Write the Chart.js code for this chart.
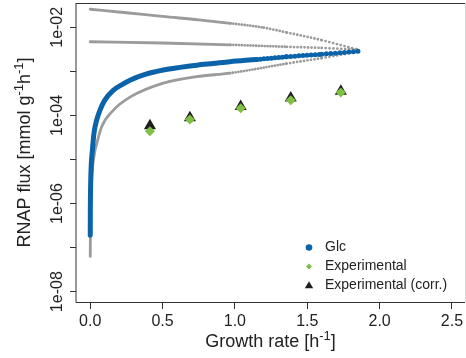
<!DOCTYPE html>
<html>
<head>
<meta charset="utf-8">
<script src="https://cdn.jsdelivr.net/npm/chart.js@4/dist/chart.umd.min.js"></script>
<style>
html, body { margin: 0; padding: 0; background: #fff; }
</style>
</head>
<body>
<canvas id="fluxChart" width="466" height="358"></canvas>
<script>
// growth rate [h^-1] against RNAP flux [mmol g^-1 h^-1]
const glcRate = [0.0005, 0.001, 0.003, 0.007, 0.015, 0.026, 0.045, 0.067, 0.1, 0.159, 0.22, 0.275, 0.38, 0.505, 0.62, 0.736, 0.85, 0.966, 1.15, 1.358, 1.6, 1.865]
const glcFlux = [1.9e-7, 6.3e-7, 2.5e-6, 7.1e-6, 1.6e-5, 3.9e-5, 7.9e-5, 1.3e-4, 2.2e-4, 3.7e-4, 5.0e-4, 6.3e-4, 8.5e-4, 1.07e-3, 1.23e-3, 1.38e-3, 1.51e-3, 1.66e-3, 1.86e-3, 2.14e-3, 2.45e-3, 2.88e-3]

// bounds around the Glc curve
const lowRate = [0.0005, 0.002, 0.006, 0.015, 0.03, 0.044, 0.08, 0.159, 0.275, 0.505, 0.736, 0.966, 1.358, 1.6, 1.85]
const lowFlux = [6.3e-8, 3.2e-7, 1.6e-6, 5.6e-6, 1.4e-5, 2.2e-5, 5.6e-5, 1.3e-4, 2.6e-4, 5.4e-4, 7.6e-4, 9.1e-4, 1.5e-3, 2.0e-3, 2.8e-3]
const midRate = [0, 0.5, 0.97, 1.36, 1.6, 1.85]
const midFlux = [4.7e-3, 4.4e-3, 4.0e-3, 3.6e-3, 3.4e-3, 3.1e-3]
const topRate = [0, 0.25, 0.5, 0.75, 0.97, 1.2, 1.36, 1.6, 1.85]
const topFlux = [2.57e-2, 2.14e-2, 1.76e-2, 1.48e-2, 1.23e-2, 9.8e-3, 7.6e-3, 5.1e-3, 3.1e-3]

// measurements
const expRate = [0.413, 0.689, 1.04, 1.386, 1.732]
const expFlux = [4.4e-5, 8.1e-5, 1.45e-4, 2.2e-4, 3.3e-4]
const expCorrFlux = [5.8e-5, 8.9e-5, 1.6e-4, 2.5e-4, 3.55e-4]

const xTicks = [0, 0.5, 1, 1.5, 2, 2.5]
const yTicks = [1e-8, 1e-7, 1e-6, 1e-5, 1e-4, 1e-3, 1e-2]
const yLabelTicks = [1e-8, 1e-6, 1e-4, 1e-2]

const FONT = '"Liberation Sans", Arial, Helvetica, sans-serif'
const BLUE = '#0b64a9'
const GREY = '#9b9b9b'
const GREEN = '#7fbf45'
const DARK = '#1e1e1e'

const pts = (xs, ys) => xs.map((x, i) => ({ x: x, y: ys[i] }))

// dense point runs turn into beads further out
const beads = (from, base, step) => ctx => {
    const x = ctx.p0.parsed.x
    if (x < from) return undefined
    return [0, base + step * x]
}

const curve = (data, color, width, order, dash) => ({
    data: data,
    showLine: true,
    borderColor: color,
    backgroundColor: color,
    borderWidth: width,
    borderCapStyle: 'round',
    borderJoinStyle: 'round',
    pointRadius: 0,
    pointHoverRadius: 0,
    cubicInterpolationMode: 'monotone',
    order: order,
    segment: { borderDash: dash }
})

const fmtExp = v => {
    const e = Math.round(Math.log10(v))
    return '1e' + (e < 0 ? '-' : '+') + String(Math.abs(e)).padStart(2, '0')
}

// text with superscript pieces, centred on x
const drawRich = (ctx, parts, x, y, size) => {
    const supSize = Math.round(size * 0.72)
    let w = 0
    parts.forEach(p => {
        ctx.font = (p.sup ? supSize : size) + 'px ' + FONT
        p.w = ctx.measureText(p.t).width
        w += p.w
    })
    let cx = x - w / 2
    parts.forEach(p => {
        ctx.font = (p.sup ? supSize : size) + 'px ' + FONT
        ctx.fillText(p.t, cx, p.sup ? y - size * 0.4 : y)
        cx += p.w
    })
}

const decorations = {
    id: 'decorations',
    afterDraw(chart) {
        const { ctx, chartArea: a, scales } = chart
        const y = scales.y
        ctx.save()

        // plot frame
        ctx.lineWidth = 1
        ctx.strokeStyle = '#d8d8d8'
        ctx.beginPath(); ctx.moveTo(a.right + 0.5, a.top); ctx.lineTo(a.right + 0.5, a.bottom); ctx.stroke()
        ctx.strokeStyle = '#333'
        ctx.beginPath()
        ctx.moveTo(a.right, a.top + 0.5); ctx.lineTo(a.left, a.top + 0.5)
        ctx.moveTo(a.left, a.top); ctx.lineTo(a.left, a.bottom + 0.5)
        ctx.moveTo(a.left, a.bottom + 0.5); ctx.lineTo(a.right, a.bottom + 0.5)
        ctx.stroke()

        // rotated y labels
        ctx.fillStyle = '#222'
        ctx.textAlign = 'center'
        ctx.textBaseline = 'alphabetic'
        ctx.font = '16px ' + FONT
        yLabelTicks.forEach(v => {
            ctx.save()
            ctx.translate(a.left - 14.5, y.getPixelForValue(v))
            ctx.rotate(-Math.PI / 2)
            ctx.fillText(fmtExp(v), 0, 0)
            ctx.restore()
        })

        // axis titles
        ctx.textAlign = 'left'
        drawRich(ctx, [{ t: 'Growth rate [h' }, { t: '-1', sup: true }, { t: ']' }], (a.left + a.right) / 2, 347, 18)
        ctx.save()
        ctx.translate(30, (a.top + a.bottom) / 2)
        ctx.rotate(-Math.PI / 2)
        drawRich(ctx, [{ t: 'RNAP flux [mmol g' }, { t: '-1', sup: true }, { t: 'h' }, { t: '-1', sup: true }, { t: ']' }], 0, 0, 18)
        ctx.restore()

        // legend
        const lx = a.right - 156
        const tx = a.right - 140
        const rows = [a.bottom - 54.5, a.bottom - 35.5, a.bottom - 16.5]
        ctx.font = '14px ' + FONT
        ctx.textBaseline = 'middle'
        ctx.fillStyle = BLUE
        ctx.beginPath(); ctx.arc(lx, rows[0], 3.3, 0, Math.PI * 2); ctx.fill()
        ctx.fillStyle = GREEN
        ctx.beginPath()
        ctx.moveTo(lx, rows[1] - 3); ctx.lineTo(lx + 3, rows[1]); ctx.lineTo(lx, rows[1] + 3); ctx.lineTo(lx - 3, rows[1])
        ctx.closePath(); ctx.fill()
        ctx.fillStyle = DARK
        ctx.beginPath()
        ctx.moveTo(lx, rows[2] - 4.3); ctx.lineTo(lx + 4.2, rows[2] + 2.8); ctx.lineTo(lx - 4.2, rows[2] + 2.8)
        ctx.closePath(); ctx.fill()
        ctx.fillStyle = '#222'
        const names = chart.data.datasets.filter(d => d.label).map(d => d.label)
        names.forEach((n, i) => ctx.fillText(n, tx, rows[i]))

        ctx.restore()
    }
}

new Chart(document.getElementById('fluxChart'), {
    type: 'scatter',
    data: {
        datasets: [
            Object.assign(curve(pts(glcRate, glcFlux), BLUE, 5, 2, beads(1.05, 1.5, 1.9)), { label: 'Glc' }),
            {
                label: 'Experimental',
                data: pts(expRate, expFlux),
                pointStyle: 'rectRot',
                pointRadius: 5,
                pointBorderWidth: 0,
                backgroundColor: GREEN,
                borderColor: GREEN,
                order: 0
            },
            {
                label: 'Experimental (corr.)',
                data: pts(expRate, expCorrFlux),
                pointStyle: 'triangle',
                pointRadius: 7,
                pointBorderWidth: 0,
                backgroundColor: DARK,
                borderColor: DARK,
                order: 1
            },
            curve(pts(lowRate, lowFlux), GREY, 2.8, 3, beads(0.85, 1.2, 1.7)),
            curve(pts(midRate, midFlux), GREY, 2.8, 3, beads(0.85, 1.2, 1.7)),
            curve(pts(topRate, topFlux), GREY, 2.8, 3, beads(0.85, 1.2, 1.7))
        ]
    },
    options: {
        responsive: false,
        animation: false,
        devicePixelRatio: 1,
        layout: { autoPadding: false, padding: { left: 0, top: 3, right: 1, bottom: 0 } },
        plugins: {
            legend: { display: false },
            tooltip: { enabled: false }
        },
        scales: {
            x: {
                type: 'linear',
                min: -0.098,
                max: 2.59,
                bounds: 'data',
                afterBuildTicks: s => { s.ticks = xTicks.map(v => ({ value: v })) },
                afterFit: s => { s.height = 56; s.paddingLeft = 0; s.paddingRight = 0 },
                border: { display: false },
                grid: { drawOnChartArea: false, drawTicks: true, tickLength: 7, tickColor: '#333', tickWidth: 1 },
                ticks: {
                    padding: 3,
                    color: '#222',
                    font: { family: FONT, size: 16 },
                    maxRotation: 0,
                    callback: v => v.toFixed(1)
                }
            },
            y: {
                type: 'logarithmic',
                min: 5.83e-9,
                max: 3.56e-2,
                bounds: 'data',
                afterBuildTicks: s => { s.ticks = yTicks.map(v => ({ value: v })) },
                afterFit: s => { s.width = 76; s.paddingTop = 0; s.paddingBottom = 0 },
                border: { display: false },
                grid: { drawOnChartArea: false, drawTicks: true, tickLength: 6, tickColor: '#333', tickWidth: 1 },
                ticks: { display: false }
            }
        }
    },
    plugins: [decorations]
})
</script>
</body>
</html>
